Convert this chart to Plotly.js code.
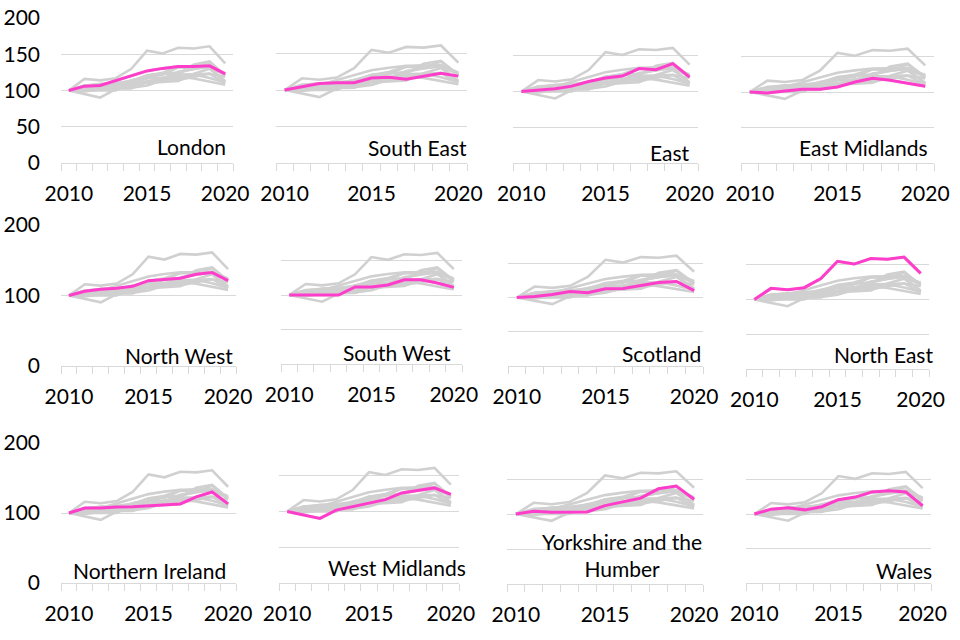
<!DOCTYPE html>
<html>
<head>
<meta charset="utf-8">
<script src="https://cdn.plot.ly/plotly-3.0.1.min.js"></script>
<style>html,body{margin:0;padding:0;background:#fff;}#chart{width:960px;height:640px;}</style>
</head>
<body>
<div id="chart"></div>
<script>
// ---- data (index, 2010 = 100) ----
const years = [2010, 2011, 2012, 2013, 2014, 2015, 2016, 2017, 2018, 2019, 2020];
const xTickLabels = ["2010", "2015", "2020"];
const xTickYears = [2010, 2015, 2020];

const london          = [100, 106, 107, 114, 120, 127, 130.5, 133, 133, 134, 123];
const southEast       = [100, 105, 109, 110, 110, 116.5, 117.4, 114.7, 119, 123, 119];
const east            = [100, 101.4, 103.8, 107.5, 114, 118.8, 121.6, 132, 130.5, 139, 120];
const eastMidlands    = [100, 98.6, 101.4, 103.8, 103.8, 107, 114, 119.4, 116.6, 112, 108];
const northWest       = [100, 106, 109, 110.4, 113, 121, 122.7, 124.6, 130, 132.7, 121];
const southWest       = [100, 100, 100, 100, 111.6, 111.6, 114.5, 122, 122.2, 117.4, 111];
const scotland        = [100, 101.5, 104.4, 108.8, 107, 112.7, 113, 118, 122, 123.4, 110];
const northEast       = [100, 116, 114, 117, 130, 155, 151, 159, 158, 161, 137.5];
const northernIreland = [100, 107, 107, 108.6, 109, 110, 111.4, 113, 123, 130, 113];
const westMidlands    = [100, 95.4, 90.3, 102, 107, 111, 116.6, 126, 130, 133, 124];
const yorkshire       = [100, 103.8, 102.4, 102.4, 103, 112, 117, 122.7, 136, 140, 121];
const wales           = [100, 107, 109, 106, 110.6, 120.7, 124.5, 132, 133.7, 132, 112];

const regionNames = ["London", "South East", "East", "East Midlands",
  "North West", "South West", "Scotland", "North East",
  "Northern Ireland", "West Midlands", "Yorkshire and the<br>Humber", "Wales"];
const regionValues = [london, southEast, east, eastMidlands,
  northWest, southWest, scotland, northEast,
  northernIreland, westMidlands, yorkshire, wales];

// ---- layout geometry (pixels: left, right, top(200), bottom(0)) ----
const W = 960, H = 640;
const panelPx = [
  [61, 233, 18, 163], [276, 467, 17, 163], [513, 698, 20, 163], [741, 934, 21, 163],
  [61, 236, 225, 366], [281, 462, 226, 364], [508, 703, 229, 366], [746, 929, 230, 369],
  [61, 236, 443, 583], [279, 459, 440, 583], [507, 703, 444, 584], [746, 931, 445, 583]
];
const labelPx = [
  [228, 146, "right"], [469, 147, "right"], [692, 152, "right"], [930, 148, "right"],
  [235, 355, "right"], [453, 352, "right"], [703, 353, "right"], [935, 354, "right"],
  [228, 570, "right"], [468, 567, "right"], [622, 555, "center"], [934, 570, "right"]
];

const FONT = "Lato, 'Open Sans', sans-serif";
const FS = 21;
const GREY = "#d0d0d0";
const PINK = "#ff3dcb";
const GRID = "#d9d9d9";

const traces = [];
const layout = {
  width: W, height: H,
  margin: {l: 0, r: 0, t: 0, b: 0},
  paper_bgcolor: "#ffffff", plot_bgcolor: "rgba(0,0,0,0)",
  showlegend: false,
  font: {family: FONT, size: FS, color: "#000000"},
  annotations: []
};

for (let p = 0; p < 12; p++) {
  const n = p + 1;
  const xa = "x" + (n === 1 ? "" : n), ya = "y" + (n === 1 ? "" : n);
  const xk = "xaxis" + (n === 1 ? "" : n), yk = "yaxis" + (n === 1 ? "" : n);
  const [l, r, t, b] = panelPx[p];
  const col = p % 4, row = Math.floor(p / 4);

  for (let s = 0; s < 12; s++) {
    traces.push({x: years, y: regionValues[s], xaxis: xa, yaxis: ya, type: "scatter",
      mode: "lines", line: {color: GREY, width: 2.6}, hoverinfo: "skip"});
  }
  traces.push({x: years, y: regionValues[p], xaxis: xa, yaxis: ya, type: "scatter",
    mode: "lines", line: {color: PINK, width: 3}, name: regionNames[p]});

  layout[xk] = {
    domain: [l / W, r / W], anchor: ya, range: [2009.5, 2020.5],
    tickmode: "array", tickvals: xTickYears, ticktext: xTickLabels,
    ticks: "", showgrid: false, zeroline: false,
    showline: true, linecolor: GRID, linewidth: 1,
    ticklabelstandoff: 12,
    tickfont: {family: FONT, size: FS, color: "#000"},
    minor: {tick0: 2009.5, dtick: 1, ticks: "outside", ticklen: 7, tickcolor: GRID, tickwidth: 1, showgrid: false}
  };
  layout[yk] = {
    domain: [1 - b / H, 1 - t / H], anchor: xa, range: [0, 200],
    tickmode: "linear", tick0: 0, dtick: (col === 0 && row > 0) ? 100 : 50,
    showticklabels: col === 0, ticks: "", showline: false, zeroline: false,
    showgrid: true, gridcolor: GRID, gridwidth: 1,
    ticklabelstandoff: 20,
    tickfont: {family: FONT, size: FS, color: "#000"}
  };

  const [lx, ly, anch] = labelPx[p];
  layout.annotations.push({
    text: regionNames[p], xref: "paper", yref: "paper",
    x: lx / W, y: 1 - ly / H, xanchor: anch, yanchor: "middle",
    align: "center", showarrow: false,
    font: {family: FONT, size: FS, color: "#000"}
  });
}

Plotly.newPlot("chart", traces, layout, {staticPlot: true, displayModeBar: false});
</script>
</body>
</html>
